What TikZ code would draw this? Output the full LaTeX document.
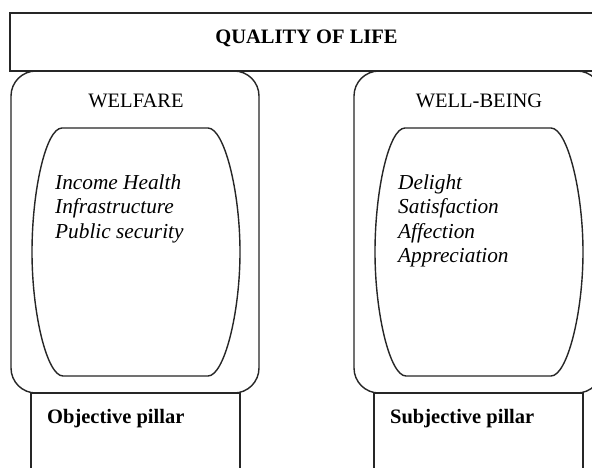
\documentclass[tikz,border=0pt]{standalone}
\usepackage{fontspec}
\setmainfont{Liberation Serif}
\begin{document}
\begin{tikzpicture}[x=1pt,y=-1pt,
  shapeline/.style={draw=black!85, line width=1.4pt},
  txt/.style={inner sep=0pt, font=\fontsize{20.5}{24}\selectfont},
  boldtxt/.style={txt, font=\fontsize{20.5}{24}\selectfont\bfseries},
  ittxt/.style={txt, anchor=base west, font=\fontsize{21.3}{24}\selectfont\itshape}]
\useasboundingbox (0,0) rectangle (592,467);
\clip (0,0) rectangle (592,467);
\fill[white] (0,0) rectangle (592,467);

% pillars
\draw[shapeline] (31,393) rectangle (240,480);
\draw[shapeline] (374,393) rectangle (583,480);

% outer rounded boxes
\draw[shapeline, rounded corners=25] (11,71) rectangle (259,393);
\draw[shapeline, rounded corners=25] (354,71) rectangle (602,393);

% top box
\draw[shapeline] (10,13) rectangle (610,71);

% inner barrels
\foreach \dx in {0,343}{
\draw[shapeline] (62+\dx,128) -- (208+\dx,128)
  .. controls (224+\dx,128) and (240+\dx,190) .. (240+\dx,252)
  .. controls (240+\dx,314) and (224+\dx,376) .. (208+\dx,376)
  -- (63+\dx,376)
  .. controls (47+\dx,376) and (32+\dx,314) .. (32+\dx,252)
  .. controls (32+\dx,190) and (46+\dx,128) .. (62+\dx,128) -- cycle;
}

% texts
\node[boldtxt, anchor=base] (qol) at (306.5,43) {QUALITY OF LIFE};
\node[txt, anchor=base] (welfare) at (136,107) {WELFARE};
\node[txt, anchor=base] (wellbeing) at (479,107) {WELL-BEING};

\node[ittxt] (l1) at (55,189) {Income Health};
\node[ittxt] (l2) at (55,213.5) {Infrastructure};
\node[ittxt] (l3) at (55,238) {Public security};

\node[ittxt] (r1) at (398,189) {Delight};
\node[ittxt] (r2) at (398,213.5) {Satisfaction};
\node[ittxt] (r3) at (398,238) {Affection};
\node[ittxt] (r4) at (398,262.5) {Appreciation};

\node[boldtxt, anchor=base west] (obj) at (47,423) {Objective pillar};
\node[boldtxt, anchor=base west] (subj) at (390,423) {Subjective pillar};
\end{tikzpicture}
\end{document}
